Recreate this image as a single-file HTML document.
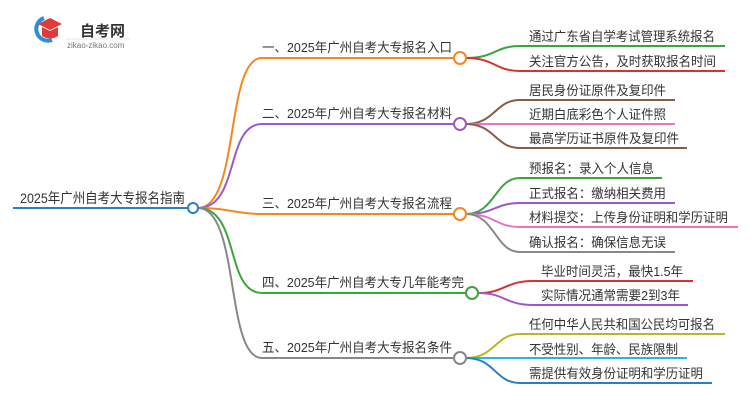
<!DOCTYPE html>
<html><head><meta charset="utf-8"><style>
body{margin:0;background:#fff;}
svg{display:block}
text{font-family:"Liberation Sans","Noto Sans CJK SC",sans-serif;fill:#333;font-size:13px}
</style></head><body>
<svg width="750" height="410" viewBox="0 0 750 410" xmlns="http://www.w3.org/2000/svg">
<!-- logo -->
<path d="M44 18 A11 11 0 1 0 52 40" fill="none" stroke="#2a8fd8" stroke-width="4"/>
<path d="M38 24 L50 18 L62 24 L50 30 Z" fill="#e03a3a"/>
<path d="M42 27 L42 36 Q50 41 58 36 L58 27 L50 31 Z" fill="#e03a3a"/>
<text x="80" y="36" style="font-size:15px;font-weight:bold;fill:#333">自考网</text>
<text x="67" y="48" style="font-size:8px;fill:#777">zikao-zikao.com</text>
<line x1="66" y1="39" x2="130" y2="39" stroke="#ccc" stroke-width="0.6"/>

<g fill="none" stroke-width="2">
<line x1="13" y1="208" x2="188" y2="208" stroke="#2a7fc0"/>
<path d="M198 208 C240 208 225 58 262 58 L455 58" stroke="#f7861f"/>
<path d="M198 208 C240 208 225 124 262 124 L455 124" stroke="#9b59c9"/>
<path d="M198 208 C230 208 235 214 262 214 L455 214" stroke="#f7861f"/>
<path d="M198 208 C240 208 225 293 262 293 L467 293" stroke="#3aa63a"/>
<path d="M198 208 C240 208 225 358 262 358 L455 358" stroke="#888"/>
<path d="M466 58 C495 58 495 46 520 46 L725 46" stroke="#3aa63a"/>
<path d="M466 58 C495 58 495 71 520 71 L725 71" stroke="#d93030"/>
<path d="M466 124 C495 124 495 100 520 100 L675 100" stroke="#8b5a4a"/>
<path d="M466 124 L675 124" stroke="#e873c8"/>
<path d="M466 124 C495 124 495 148 520 148 L687 148" stroke="#8b5a4a"/>
<path d="M466 214 C495 214 495 178 520 178 L662 178" stroke="#3aa63a"/>
<path d="M466 214 C495 214 495 203 520 203 L675 203" stroke="#9b59c9"/>
<path d="M466 214 C495 214 495 227 520 227 L738 227" stroke="#e873c8"/>
<path d="M466 214 C495 214 495 252 520 252 L675 252" stroke="#888"/>
<path d="M478 293 C505 293 505 281 533 281 L693 281" stroke="#d93030"/>
<path d="M478 293 C505 293 505 305 533 305 L688 305" stroke="#9b59c9"/>
<path d="M466 358 C495 358 495 334 520 334 L725 334" stroke="#b8b820"/>
<path d="M466 358 L687 358" stroke="#2ab8d0"/>
<path d="M466 358 C495 358 495 383 520 383 L712 383" stroke="#2a7fc0"/>
</g>
<g fill="#fff" stroke-width="2">
<circle cx="193" cy="208" r="5" stroke="#2a7fc0"/>
<circle cx="460" cy="58" r="6" stroke="#f7861f"/>
<circle cx="460" cy="124" r="6" stroke="#9b59c9"/>
<circle cx="460" cy="214" r="6" stroke="#f7861f"/>
<circle cx="472" cy="293" r="6" stroke="#3aa63a"/>
<circle cx="460" cy="358" r="6" stroke="#888"/>
</g>
<text x="20" y="203" textLength="165" lengthAdjust="spacingAndGlyphs" style="font-size:14px">2025年广州自考大专报名指南</text>
<text x="262" y="52" textLength="190" lengthAdjust="spacingAndGlyphs">一、2025年广州自考大专报名入口</text>
<text x="262" y="118" textLength="190" lengthAdjust="spacingAndGlyphs">二、2025年广州自考大专报名材料</text>
<text x="262" y="208" textLength="190" lengthAdjust="spacingAndGlyphs">三、2025年广州自考大专报名流程</text>
<text x="262" y="287" textLength="202" lengthAdjust="spacingAndGlyphs">四、2025年广州自考大专几年能考完</text>
<text x="262" y="352" textLength="190" lengthAdjust="spacingAndGlyphs">五、2025年广州自考大专报名条件</text>
<text x="529" y="41" textLength="186" lengthAdjust="spacingAndGlyphs">通过广东省自学考试管理系统报名</text>
<text x="529" y="66" textLength="187" lengthAdjust="spacingAndGlyphs">关注官方公告，及时获取报名时间</text>
<text x="529" y="95" textLength="137" lengthAdjust="spacingAndGlyphs">居民身份证原件及复印件</text>
<text x="529" y="119" textLength="137" lengthAdjust="spacingAndGlyphs">近期白底彩色个人证件照</text>
<text x="529" y="143" textLength="150" lengthAdjust="spacingAndGlyphs">最高学历证书原件及复印件</text>
<text x="529" y="173" textLength="125" lengthAdjust="spacingAndGlyphs">预报名：录入个人信息</text>
<text x="529" y="198" textLength="137" lengthAdjust="spacingAndGlyphs">正式报名：缴纳相关费用</text>
<text x="529" y="222" textLength="199" lengthAdjust="spacingAndGlyphs">材料提交：上传身份证明和学历证明</text>
<text x="529" y="247" textLength="137" lengthAdjust="spacingAndGlyphs">确认报名：确保信息无误</text>
<text x="541" y="276" textLength="142" lengthAdjust="spacingAndGlyphs">毕业时间灵活，最快1.5年</text>
<text x="541" y="300" textLength="139" lengthAdjust="spacingAndGlyphs">实际情况通常需要2到3年</text>
<text x="529" y="329" textLength="186" lengthAdjust="spacingAndGlyphs">任何中华人民共和国公民均可报名</text>
<text x="529" y="354" textLength="149" lengthAdjust="spacingAndGlyphs">不受性别、年龄、民族限制</text>
<text x="529" y="378" textLength="174" lengthAdjust="spacingAndGlyphs">需提供有效身份证明和学历证明</text>
</svg>
</body></html>
